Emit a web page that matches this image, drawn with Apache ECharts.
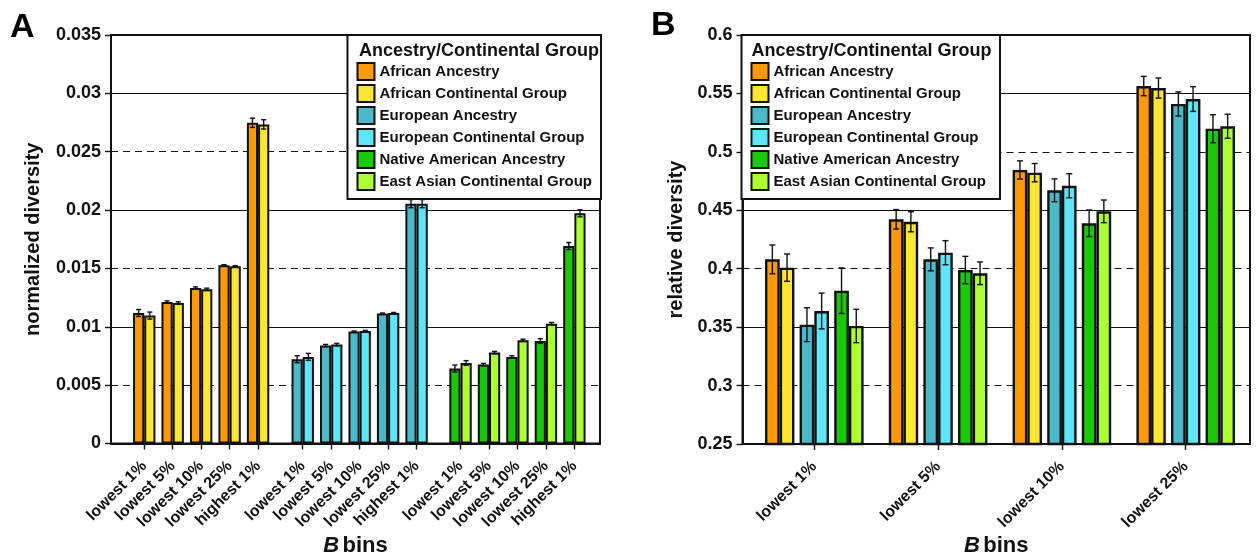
<!DOCTYPE html>
<html>
<head>
<meta charset="utf-8">
<script src="https://cdn.jsdelivr.net/npm/echarts@6/dist/echarts.min.js"></script>
<style>
  html, body { margin: 0; padding: 0; background: #fff; }
  #chart { width: 1259px; height: 559px; }
</style>
</head>
<body>
<div id="chart"></div>
<script>
// ---- data ----
const groupNames = [
  'African Ancestry', 'African Continental Group',
  'European Ancestry', 'European Continental Group',
  'Native American Ancestry', 'East Asian Continental Group'
];
const groupColors = ['#FF9A00', '#FCE533', '#4CB9CB', '#5EE6F8', '#19C808', '#ADFF33'];

// Panel A: normalized diversity per B bin
const binsA = ['lowest 1%', 'lowest 5%', 'lowest 10%', 'lowest 25%', 'highest 1%'];
const africanAncestryA      = [0.01118, 0.01212, 0.01332, 0.01527, 0.02748];
const africanContinentalA   = [0.01096, 0.01204, 0.01321, 0.01518, 0.02734];
const europeanAncestryA     = [0.00722, 0.00839, 0.00959, 0.01113, 0.02055];
const europeanContinentalA  = [0.00742, 0.00848, 0.00964, 0.01118, 0.02055];
const nativeAmericanA       = [0.00642, 0.00676, 0.00742, 0.00878, 0.01692];
const eastAsianContinentalA = [0.00690, 0.00779, 0.00884, 0.01027, 0.01972];
const africanAncestryErrA      = [0.0003, 0.0001, 0.0001, 0.00005, 0.0004];
const africanContinentalErrA   = [0.0003, 0.0001, 0.0001, 0.00005, 0.0004];
const europeanAncestryErrA     = [0.0003, 0.0001, 0.00005, 0.00005, 0.00035];
const europeanContinentalErrA  = [0.0003, 0.0001, 0.00005, 0.00005, 0.00035];
const nativeAmericanErrA       = [0.0003, 0.0001, 0.0001, 0.0002, 0.0003];
const eastAsianContinentalErrA = [0.0002, 0.0001, 0.0001, 0.0001, 0.0003];
const ticksA = { min: 0, max: 0.035, step: 0.005 };

// Panel B: relative diversity per B bin
const binsB = ['lowest 1%', 'lowest 5%', 'lowest 10%', 'lowest 25%'];
const africanAncestryB      = [0.4080, 0.4423, 0.4845, 0.5563];
const africanContinentalB   = [0.4009, 0.4402, 0.4822, 0.5546];
const europeanAncestryB     = [0.3521, 0.4080, 0.4671, 0.5410];
const europeanContinentalB  = [0.3638, 0.4137, 0.4710, 0.5452];
const nativeAmericanB       = [0.3812, 0.3989, 0.4389, 0.5198];
const eastAsianContinentalB = [0.3510, 0.3961, 0.4491, 0.5219];
const africanAncestryErrB      = [0.0123, 0.0083, 0.0078, 0.0083];
const africanContinentalErrB   = [0.0117, 0.0086, 0.0078, 0.0086];
const europeanAncestryErrB     = [0.0145, 0.0098, 0.0098, 0.0103];
const europeanContinentalErrB  = [0.0153, 0.0103, 0.0103, 0.0106];
const nativeAmericanErrB       = [0.0195, 0.0117, 0.0114, 0.0120];
const eastAsianContinentalErrB = [0.0143, 0.0097, 0.0097, 0.0103];
const ticksB = { min: 0.25, max: 0.6, step: 0.05 };

// ---- styling ----
const FONT = '"Liberation Sans", Arial, Helvetica, sans-serif';
const INK = '#111';

const valuesA = [africanAncestryA, africanContinentalA, europeanAncestryA,
                 europeanContinentalA, nativeAmericanA, eastAsianContinentalA];
const errorsA = [africanAncestryErrA, africanContinentalErrA, europeanAncestryErrA,
                 europeanContinentalErrA, nativeAmericanErrA, eastAsianContinentalErrA];
const valuesB = [africanAncestryB, africanContinentalB, europeanAncestryB,
                 europeanContinentalB, nativeAmericanB, eastAsianContinentalB];
const errorsB = [africanAncestryErrB, africanContinentalErrB, europeanAncestryErrB,
                 europeanContinentalErrB, nativeAmericanErrB, eastAsianContinentalErrB];

const BAR_W_A = 11.2;       // panel A bar width (px)
const BAR_W_B = 14.7;       // panel B bar width (px)
const PAIR_GAP_B = 5.2;     // space between bar pairs inside a panel B bin

// whiskers drawn through the axis scales, shifted to the centre of their bar
function errorBars(xAxisIndex, yAxisIndex, values, errors, offset, capHalf) {
  return {
    type: 'custom', xAxisIndex, yAxisIndex, z: 5, silent: true,
    data: values.map((v, i) => [i, v - errors[i], v + errors[i]]),
    encode: { x: 0, y: [1, 2] },
    renderItem: (params, api) => {
      const lo = api.coord([api.value(0), api.value(1)]);
      const hi = api.coord([api.value(0), api.value(2)]);
      const x = lo[0] + offset;
      const style = { stroke: INK, lineWidth: 1.4, fill: null };
      return { type: 'group', children: [
        { type: 'line', shape: { x1: x, y1: lo[1], x2: x, y2: hi[1] }, style },
        { type: 'line', shape: { x1: x - capHalf, y1: lo[1], x2: x + capHalf, y2: lo[1] }, style },
        { type: 'line', shape: { x1: x - capHalf, y1: hi[1], x2: x + capHalf, y2: hi[1] }, style }
      ]};
    }
  };
}

function barStyle(i, bw) {
  return { color: groupColors[i], borderColor: INK, borderWidth: bw };
}

const catAxisCommon = {
  type: 'category', boundaryGap: true,
  axisLine: { show: false },
  axisTick: { show: true, alignWithLabel: true, length: 6, lineStyle: { color: INK, width: 1.4 } },
  axisLabel: { rotate: 45, interval: 0, margin: 20, fontSize: 16, fontWeight: 'bold', color: INK, fontFamily: FONT },
  splitLine: { show: false }
};

const binsTitle = {
  name: '{i|B} {b|bins}', nameLocation: 'middle', nameGap: 91,
  nameTextStyle: {
    rich: {
      i: { fontSize: 22, fontWeight: 'bold', fontStyle: 'italic', fontFamily: FONT, color: INK },
      b: { fontSize: 22, fontWeight: 'bold', fontFamily: FONT, color: INK }
    }
  }
};

function frameXAxis(gridIndex) {
  return Object.assign({
    gridIndex, type: 'category', data: [''],
    axisLine: { show: true, lineStyle: { color: INK, width: 2 } },
    axisTick: { show: false }, axisLabel: { show: false }, splitLine: { show: false }
  }, binsTitle);
}

function labelledYAxis(gridIndex, t, name, nameGap) {
  return {
    gridIndex, type: 'value', min: t.min, max: t.max, interval: t.step,
    name, nameLocation: 'middle', nameGap,
    nameTextStyle: { fontSize: 20, fontWeight: 'bold', color: INK, fontFamily: FONT },
    axisLine: { show: true, lineStyle: { color: INK, width: 2 } },
    axisTick: { show: true, inside: false, length: 6, lineStyle: { color: INK, width: 1.4 } },
    axisLabel: { fontSize: 18, fontWeight: 'bold', color: INK, fontFamily: FONT, margin: 10 },
    splitLine: { show: true, lineStyle: { color: INK, width: 1.2, type: [7, 5] } }
  };
}

// every other gridline is solid: an unlabelled companion axis whose ticks
// fall on alternate values of the labelled one
function solidLineAxis(gridIndex, span, step) {
  return {
    gridIndex, type: 'value', min: 0, max: span, interval: step,
    axisLine: { show: false }, axisTick: { show: false }, axisLabel: { show: false },
    splitLine: { show: true, lineStyle: { color: INK, width: 1.2, type: 'solid' } }
  };
}

function hiddenYAxis(gridIndex, t) {
  return { gridIndex, type: 'value', min: t.min, max: t.max, show: false, splitLine: { show: false } };
}

// ---- layout ----
function grid(left, width, height, framed) {
  const g = { left, top: 35, width, height, outerBoundsMode: 'none', containLabel: false };
  if (framed) Object.assign(g, { show: true, borderColor: INK, borderWidth: 2, backgroundColor: '#fff' });
  return g;
}
const grids = [
  grid(111, 489, 408.5, true),
  grid(130, 142.3, 408.5),
  grid(288.5, 142.3, 408.5),
  grid(446.3, 142.3, 408.5),
  grid(742.5, 507.5, 409, true),
  grid(752.4, 495.2, 409)
];

const xAxes = [
  frameXAxis(0),
  Object.assign({ gridIndex: 1, data: binsA }, catAxisCommon),
  Object.assign({ gridIndex: 2, data: binsA }, catAxisCommon),
  Object.assign({ gridIndex: 3, data: binsA }, catAxisCommon),
  frameXAxis(4),
  Object.assign({ gridIndex: 5, data: binsB }, catAxisCommon)
];

const yAxes = [
  labelledYAxis(0, ticksA, 'normalized diversity', 68),
  solidLineAxis(0, 0.035, 0.01),
  hiddenYAxis(1, ticksA),
  hiddenYAxis(2, ticksA),
  hiddenYAxis(3, ticksA),
  labelledYAxis(4, ticksB, 'relative diversity', 56),
  solidLineAxis(4, 0.35, 0.1),     // lines at 0.25, 0.35, 0.45, 0.55
  hiddenYAxis(5, ticksB)
];

const series = [];

// panel A: three clusters, each an ancestry bar next to its continental group bar
for (let g = 0; g < 3; g++) {
  for (let k = 0; k < 2; k++) {
    const i = 2 * g + k;
    series.push({
      type: 'bar', name: groupNames[i], xAxisIndex: g + 1, yAxisIndex: g + 2,
      data: valuesA[i], barWidth: BAR_W_A, barGap: '0%', z: 2,
      itemStyle: barStyle(i, 2), emphasis: { disabled: true }
    });
  }
}
for (let g = 0; g < 3; g++) {
  for (let k = 0; k < 2; k++) {
    const i = 2 * g + k;
    series.push(errorBars(g + 1, g + 2, valuesA[i], errorsA[i], (k === 0 ? -1 : 1) * BAR_W_A / 2, 2.6));
  }
}

// panel B: six bars per bin, grouped in pairs with a narrow spacer between pairs
const slotsB = [];
for (let p = 0; p < 3; p++) {
  if (p > 0) slotsB.push({ spacer: true, w: PAIR_GAP_B });
  slotsB.push({ idx: 2 * p, w: BAR_W_B });
  slotsB.push({ idx: 2 * p + 1, w: BAR_W_B });
}
const totalB = slotsB.reduce((s, d) => s + d.w, 0);
let cursor = -totalB / 2;
const offsetsB = [];
slotsB.forEach((slot) => {
  if (slot.spacer) {
    series.push({
      type: 'bar', name: 'spacer', xAxisIndex: 5, yAxisIndex: 7,
      data: binsB.map(() => '-'), barWidth: slot.w, barGap: '0%', silent: true
    });
  } else {
    offsetsB[slot.idx] = cursor + slot.w / 2;
    series.push({
      type: 'bar', name: groupNames[slot.idx], xAxisIndex: 5, yAxisIndex: 7,
      data: valuesB[slot.idx], barWidth: slot.w, barGap: '0%', z: 2,
      itemStyle: barStyle(slot.idx, 2.4), emphasis: { disabled: true }
    });
  }
  cursor += slot.w;
});
for (let i = 0; i < 6; i++) {
  series.push(errorBars(5, 7, valuesB[i], errorsB[i], offsetsB[i], 3));
}

function legendBox(pos, padRight) {
  return Object.assign({
    data: groupNames, orient: 'vertical', top: 35,
    padding: [27, padRight, 8, 9],
    itemWidth: 17, itemHeight: 17, itemGap: 3, icon: 'rect',
    backgroundColor: '#fff', borderColor: INK, borderWidth: 2, borderRadius: 0,
    selectedMode: false,
    textStyle: { fontSize: 15, fontWeight: 'bold', color: INK, fontFamily: FONT },
    itemStyle: { borderColor: INK, borderWidth: 2 }
  }, pos);
}

const headStyle = { fontSize: 18, fontWeight: 'bold', color: INK, fontFamily: FONT };
const letterStyle = { fontSize: 34, fontWeight: 'bold', color: '#000', fontFamily: FONT };

const option = {
  animation: false,
  backgroundColor: '#fff',
  textStyle: { fontFamily: FONT },
  title: [
    { text: 'A', left: 10, top: 11, padding: 0, textStyle: letterStyle },
    { text: 'B', left: 651, top: 9, padding: 0, textStyle: letterStyle },
    { text: 'Ancestry/Continental Group', left: 359, top: 42, padding: 0, textStyle: headStyle },
    { text: 'Ancestry/Continental Group', left: 751.5, top: 42, padding: 0, textStyle: headStyle }
  ],
  legend: [
    legendBox({ right: 658 }, 9),
    legendBox({ left: 741.5 }, 14)
  ],
  grid: grids,
  xAxis: xAxes,
  yAxis: yAxes,
  series
};

const chart = echarts.init(document.getElementById('chart'), null, { renderer: 'canvas' });
chart.setOption(option);
</script>
</body>
</html>
